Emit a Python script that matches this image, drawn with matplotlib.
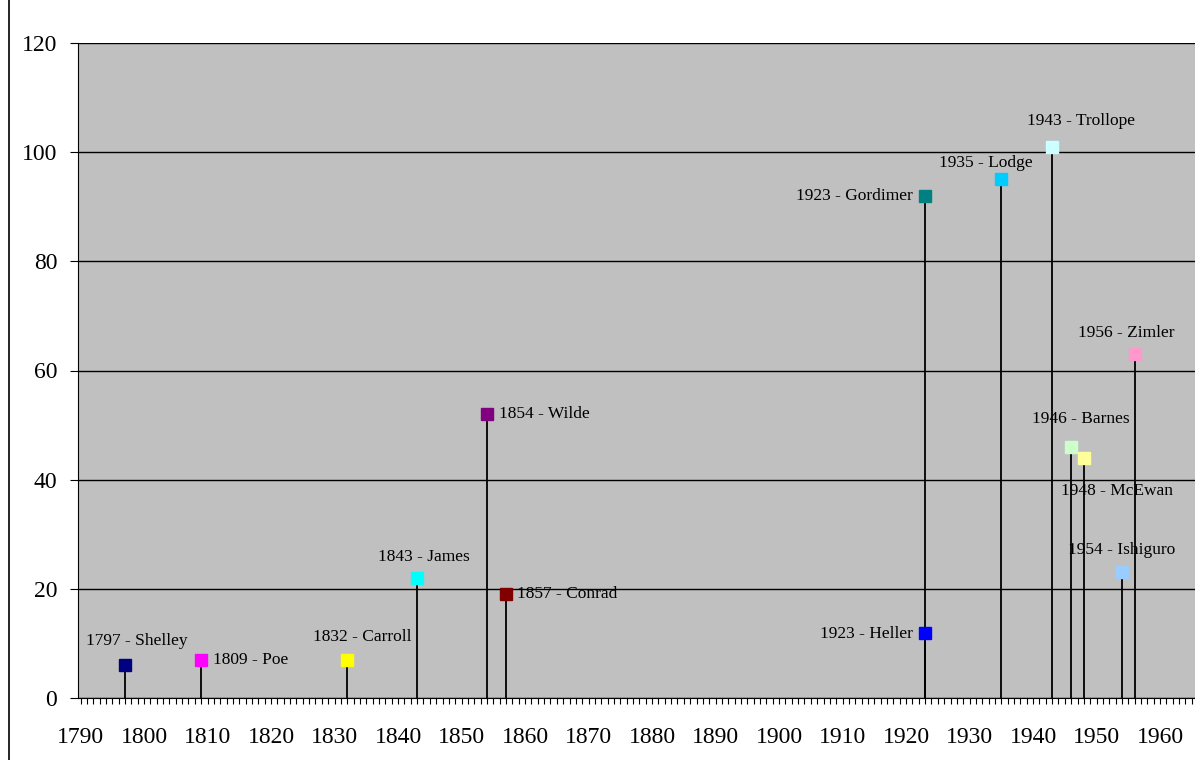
import matplotlib
matplotlib.use("Agg")
import matplotlib.pyplot as plt
from matplotlib.lines import Line2D
from matplotlib.ticker import MultipleLocator

plt.rcParams['font.family'] = ['Liberation Serif', 'DejaVu Serif']

# Data
authors = ["Shelley", "Poe", "Carroll", "James", "Wilde", "Conrad", "Gordimer",
           "Heller", "Lodge", "Trollope", "Barnes", "McEwan", "Ishiguro", "Zimler"]
years = [1797, 1809, 1832, 1843, 1854, 1857, 1923, 1923, 1935, 1943, 1946, 1948, 1954, 1956]
values = [6, 7, 7, 22, 52, 19, 92, 12, 95, 101, 46, 44, 23, 63]
colors = ["#000080", "#FF00FF", "#FFFF00", "#00FFFF", "#800080", "#800000", "#008080",
          "#0000FF", "#00CCFF", "#CCFFFF", "#CCFFCC", "#FFFF99", "#99CCFF", "#FF99CC"]
# label placement (offset in pixels from marker, horizontal alignment)
label_offsets = [(12, 24, 'center'), (12, 0, 'left'), (15, 23, 'center'), (7, 21, 'center'),
                 (12, 0, 'left'), (11, 0, 'left'), (-12, 0, 'right'), (-12, -1, 'right'),
                 (-16, 16, 'center'), (29, 26, 'center'), (10, 28, 'center'),
                 (33, -33, 'center'), (0, 22, 'center'), (-8, 21, 'center')]

fig = plt.figure(figsize=(11.95, 7.6), dpi=100)
W, H = 1195, 760
ax = fig.add_axes([78 / W, (H - 698) / H, (W - 78) / W, 655 / H])
ax.set_facecolor("#C0C0C0")

for y, v, c in zip(years, values, colors):
    ax.plot([y, y], [0, v], color="black", lw=1.3, zorder=2, solid_capstyle='butt')
    ax.plot([y], [v], marker='s', markersize=8, color=c, markeredgecolor=c, zorder=3)

for a, y, v, (dx, dy, ha) in zip(authors, years, values, label_offsets):
    ax.annotate(f"{y} - {a}", xy=(y, v), xytext=(dx, dy), textcoords='offset pixels',
                ha=ha, va='center', fontsize=12.5, color='black', zorder=4)

ax.set_xlim(1789.6, 1965.5)
ax.set_ylim(0, 120)
ax.xaxis.set_major_locator(MultipleLocator(10))
ax.xaxis.set_minor_locator(MultipleLocator(1))
ax.yaxis.set_major_locator(MultipleLocator(20))
ax.grid(axis='y', color='black', lw=1.0, zorder=1)
ax.set_axisbelow(True)

for s in ['top', 'right']:
    ax.spines[s].set_visible(False)
ax.spines['left'].set_color('black')
ax.spines['bottom'].set_color('black')

ax.tick_params(axis='x', which='both', direction='out', length=4, width=0.8,
               labelsize=17, pad=17, colors='black')
ax.tick_params(axis='y', which='major', direction='out', length=6, width=0.8,
               labelsize=17, pad=9)

fig.add_artist(Line2D([8.5 / W, 8.5 / W], [0, 1], color='black', lw=1.2,
                      transform=fig.transFigure))

fig.savefig("out.png", dpi=100)
